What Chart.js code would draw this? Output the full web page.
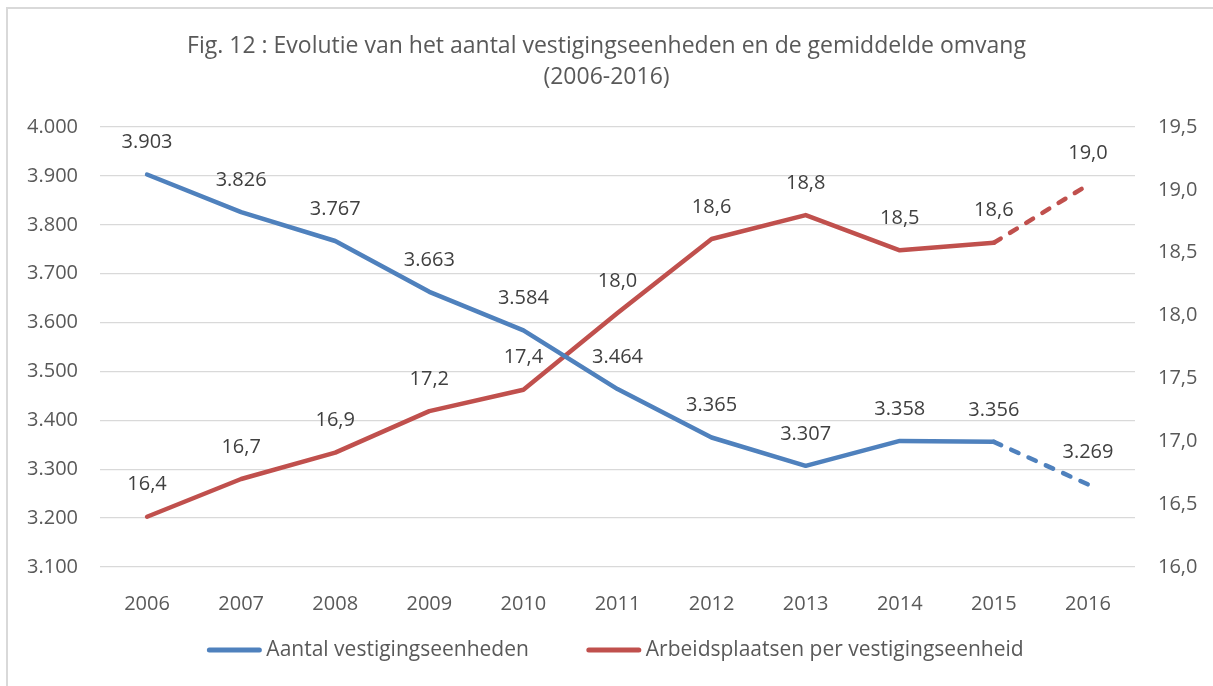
<!DOCTYPE html>
<html>
<head>
<meta charset="utf-8">
<script src="https://cdn.jsdelivr.net/npm/chart.js@4.4.1/dist/chart.umd.min.js"></script>
<style>
  html, body { margin: 0; padding: 0; background: #fff; }
  #wrap { width: 1213px; height: 686px; position: relative; }
</style>
</head>
<body>
<div id="wrap"><canvas id="chart"></canvas></div>
<script>
const years = ['2006', '2007', '2008', '2009', '2010', '2011', '2012', '2013', '2014', '2015', '2016'];
const vestigingen = [3903, 3826, 3767, 3663, 3584, 3464, 3365, 3307, 3358, 3356, 3269];
const perVestiging = [16.4, 16.7, 16.91, 17.24, 17.41, 18.02, 18.61, 18.8, 18.52, 18.58, 19.04];
const titleLines = ['Fig. 12 : Evolutie van het aantal vestigingseenheden en de gemiddelde omvang', '(2006-2016)'];
const seriesNames = ['Aantal vestigingseenheden', 'Arbeidsplaatsen per vestigingseenheid'];

const FONT = '"Open Sans", Lato, sans-serif';
const TEXT = '#595959';
const BLUE = '#4F81BD';
const RED = '#C0504D';

const fmtThousands = (v) => Math.round(v).toString().replace(/\B(?=(\d{3})+(?!\d))/g, '.');
const fmtDecimal = (v) => v.toFixed(1).replace('.', ',');

// dashed last segment (estimate 2016)
const lastDash = (ctx) => (ctx.p1DataIndex === years.length - 1 ? [8, 11] : undefined);

const dataLabels = {
  id: 'dataLabels',
  afterDatasetsDraw(chart) {
    const ctx = chart.ctx;
    ctx.save();
    ctx.font = '20px ' + FONT;
    ctx.fillStyle = '#404040';
    ctx.textAlign = 'center';
    ctx.textBaseline = 'middle';
    chart.data.datasets.forEach((ds, i) => {
      const meta = chart.getDatasetMeta(i);
      meta.data.forEach((pt, j) => {
        const txt = i === 0 ? fmtThousands(ds.data[j]) : fmtDecimal(ds.data[j]);
        ctx.fillText(txt, pt.x, pt.y - 32);
      });
    });
    ctx.restore();
  }
};

const frameAndLegend = {
  id: 'frameAndLegend',
  beforeDraw(chart) {
    const ctx = chart.ctx;
    ctx.save();
    ctx.strokeStyle = '#D9D9D9';
    ctx.lineWidth = 2;
    ctx.beginPath();
    ctx.moveTo(7, chart.height);
    ctx.lineTo(7, 8);
    ctx.lineTo(chart.width, 8);
    ctx.stroke();
    ctx.restore();
  },
  afterDraw(chart) {
    const ctx = chart.ctx;
    ctx.save();
    ctx.font = '21px ' + FONT;
    ctx.textBaseline = 'middle';
    const y = 650;
    const lineW = 54, gap = 5, spacing = 58;
    const widths = chart.data.datasets.map((ds) => lineW + gap + ctx.measureText(ds.label).width);
    const total = widths.reduce((a, b) => a + b, 0) + spacing * (widths.length - 1);
    // legend is centred roughly under the plot area, not the canvas
    const area = chart.chartArea;
    let x = (area.left + area.right) / 2 - 2 - total / 2;
    chart.data.datasets.forEach((ds, i) => {
      ctx.strokeStyle = ds.borderColor;
      ctx.lineWidth = 5;
      ctx.lineCap = 'round';
      ctx.beginPath();
      ctx.moveTo(x + 2, y);
      ctx.lineTo(x + lineW - 2, y);
      ctx.stroke();
      ctx.fillStyle = TEXT;
      ctx.fillText(ds.label, x + lineW + gap, y);
      x += widths[i] + spacing;
    });
    ctx.restore();
  }
};

new Chart(document.getElementById('chart'), {
  type: 'line',
  data: {
    labels: years,
    datasets: [
      {
        label: seriesNames[0], data: vestigingen, yAxisID: 'y',
        borderColor: BLUE, backgroundColor: BLUE, borderWidth: 4.5,
        pointRadius: 0, tension: 0, borderJoinStyle: 'round', borderCapStyle: 'round',
        segment: { borderDash: lastDash }
      },
      {
        label: seriesNames[1], data: perVestiging, yAxisID: 'y1',
        borderColor: RED, backgroundColor: RED, borderWidth: 4.5,
        pointRadius: 0, tension: 0, borderJoinStyle: 'round', borderCapStyle: 'round',
        segment: { borderDash: lastDash }
      }
    ]
  },
  options: {
    responsive: true,
    maintainAspectRatio: false,
    animation: false,
    layout: { padding: 0 },
    plugins: {
      legend: { display: false },
      tooltip: { enabled: false },
      title: {
        display: true,
        text: titleLines,
        color: TEXT,
        font: { family: FONT, size: 23, weight: 'normal', lineHeight: 1.35 },
        padding: { top: 31, bottom: 34 }
      }
    },
    scales: {
      x: {
        offset: true,
        grid: { display: false },
        border: { display: false },
        ticks: { color: TEXT, font: { family: FONT, size: 20 }, padding: 17 },
        afterFit: (s) => { s.height = 119; }
      },
      y: {
        position: 'left',
        min: 3100, max: 4000,
        ticks: { stepSize: 100, color: TEXT, font: { family: FONT, size: 20 }, padding: 22, callback: (v) => fmtThousands(v) },
        grid: { color: '#D9D9D9', lineWidth: 1.3, drawTicks: false },
        border: { display: false },
        afterFit: (s) => { s.width = 100; }
      },
      y1: {
        position: 'right',
        min: 16, max: 19.5,
        ticks: { stepSize: 0.5, color: TEXT, font: { family: FONT, size: 20 }, padding: 23, callback: (v) => fmtDecimal(v) },
        grid: { display: false, drawTicks: false },
        border: { display: false },
        afterFit: (s) => { s.width = 78; }
      }
    }
  },
  plugins: [dataLabels, frameAndLegend]
});
</script>
</body>
</html>
